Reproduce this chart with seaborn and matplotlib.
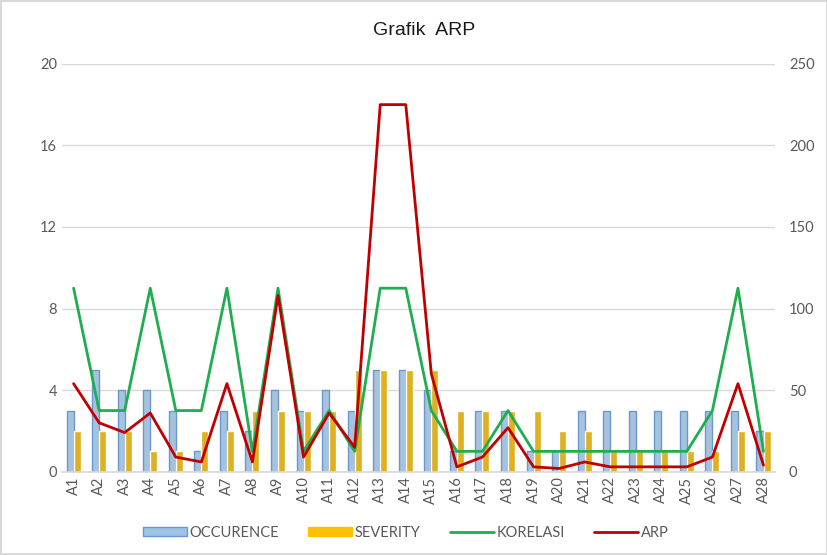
import numpy as np
import pandas as pd
import seaborn as sns
from matplotlib import pyplot as plt
from matplotlib.patches import Patch
from matplotlib.lines import Line2D

kode = ["A%d" % i for i in range(1, 29)]
occurence = [3, 5, 4, 4, 3, 1, 3, 2, 4, 3, 4, 3, 5, 5, 4, 1, 3, 3, 1, 1, 3, 3, 3, 3, 3, 3, 3, 2]
severity = [2, 2, 2, 1, 1, 2, 2, 3, 3, 3, 3, 5, 5, 5, 5, 3, 3, 3, 3, 2, 2, 1, 1, 1, 1, 1, 2, 2]
korelasi = [9, 3, 3, 9, 3, 3, 9, 1, 9, 1, 3, 1, 9, 9, 3, 1, 1, 3, 1, 1, 1, 1, 1, 1, 1, 3, 9, 1]
arp = [54, 30, 24, 36, 9, 6, 54, 6, 108, 9, 36, 15, 225, 225, 60, 3, 9, 27, 3, 2, 6, 3, 3, 3, 3, 9, 54, 4]

blue_fill = "#9dc3e6"
blue_edge = "#6a97cf"
yellow = "#ffc000"
green = "#1fae4f"
red = "#c00000"
grey_txt = "#595959"

sns.set_theme(style="white")
plt.rcParams["font.family"] = ["Lato", "DejaVu Sans"]

df = pd.DataFrame({"kode": kode * 2,
                   "nilai": occurence + severity,
                   "jenis": ["OCCURENCE"] * 28 + ["SEVERITY"] * 28})

fig = plt.figure(figsize=(8.28, 5.55), dpi=100)
fig.patch.set_edgecolor("#d9d9d9")
fig.patch.set_linewidth(1.5)
ax = fig.add_axes([0.075, 0.150, 0.861, 0.735])

sns.barplot(data=df, x="kode", y="nilai", hue="jenis", order=kode,
            palette={"OCCURENCE": blue_fill, "SEVERITY": yellow},
            width=0.55, ax=ax, legend=False, zorder=2)
for bar in ax.patches[:28]:
    bar.set_edgecolor(blue_edge)
    bar.set_linewidth(1)

x = np.arange(len(kode))
sns.lineplot(x=x, y=korelasi, color=green, linewidth=2, ax=ax, zorder=3)

ax.set_ylim(0, 20)
ax.set_yticks([0, 4, 8, 12, 16, 20])
ax.set_xlim(-0.45, 27.45)
ax.set_xticks(x)
ax.set_xticklabels(kode, rotation=90)
ax.yaxis.grid(True, color="#d9d9d9", linewidth=1)
ax.set_axisbelow(True)
ax.set_xlabel("")
ax.set_ylabel("")
for s in ["top", "right", "left"]:
    ax.spines[s].set_visible(False)
ax.spines["bottom"].set_color("#d9d9d9")
ax.tick_params(axis="both", length=0, colors=grey_txt, labelsize=10.5)

ax2 = ax.twinx()
sns.lineplot(x=x, y=arp, color=red, linewidth=2, ax=ax2, zorder=4)
ax2.set_ylim(0, 250)
ax2.set_yticks([0, 50, 100, 150, 200, 250])
ax2.set_ylabel("")
for s in ["top", "right", "left", "bottom"]:
    ax2.spines[s].set_visible(False)
ax2.tick_params(axis="y", length=0, colors=grey_txt, labelsize=10.5, pad=10)

fig.text(0.512, 0.945, "Grafik  ARP", ha="center", va="center", fontsize=14,
         color="#1a1a1a", family=["Liberation Sans", "DejaVu Sans"])

handles = [Patch(facecolor=blue_fill, edgecolor=blue_edge, label="OCCURENCE"),
           Patch(facecolor=yellow, edgecolor=yellow, label="SEVERITY"),
           Line2D([], [], color=green, linewidth=2, label="KORELASI"),
           Line2D([], [], color=red, linewidth=2, label="ARP")]
leg = fig.legend(handles=handles, loc="center", bbox_to_anchor=(0.49, 0.04), ncol=4,
                 frameon=False, fontsize=10.5, handlelength=3.0, handleheight=0.6,
                 columnspacing=2.0, handletextpad=0.2)
for t in leg.get_texts():
    t.set_color(grey_txt)

fig.savefig("out.png", dpi=100)
